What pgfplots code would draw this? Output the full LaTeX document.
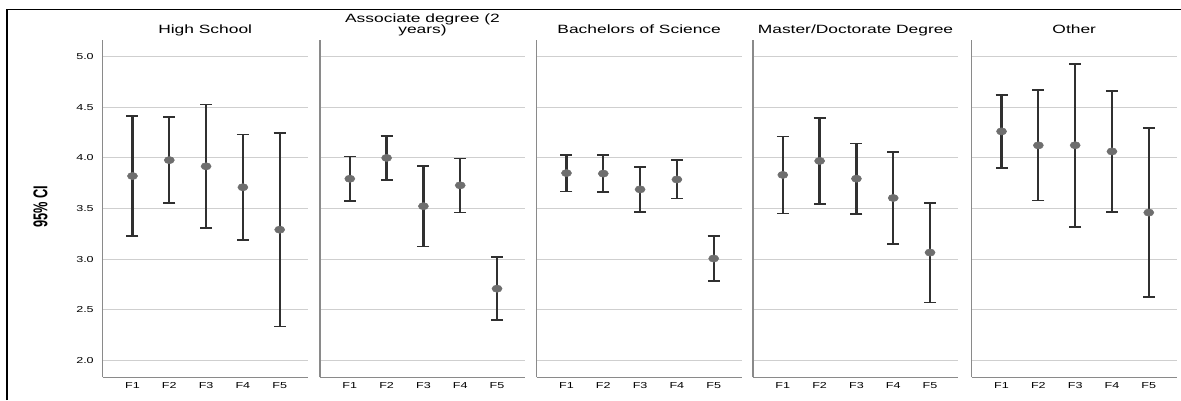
\documentclass[border=0pt]{standalone}
\usepackage{fontspec}
\setmainfont{Liberation Sans}[FakeStretch=1.45]
\newfontfamily\labfont{Liberation Sans}
\usepackage{pgfplots}
\pgfplotsset{compat=1.18}
\usepackage{pgfplotstable}

\definecolor{gridc}{HTML}{CFCFCF}
\definecolor{axc}{HTML}{8A8A8A}
\definecolor{barc}{HTML}{303030}
\definecolor{markc}{HTML}{6E6E6E}

\pgfplotstableread{
x y e
1 3.821 0.593
2 3.978 0.424
3 3.917 0.612
4 3.710 0.522
5 3.291 0.958
}\tabA
\pgfplotstableread{
x y e
1 3.794 0.218
2 4.000 0.219
3 3.523 0.400
4 3.729 0.267
5 2.708 0.310
}\tabB
\pgfplotstableread{
x y e
1 3.850 0.180
2 3.845 0.182
3 3.689 0.224
4 3.787 0.190
5 3.006 0.222
}\tabC
\pgfplotstableread{
x y e
1 3.832 0.380
2 3.970 0.424
3 3.795 0.349
4 3.604 0.452
5 3.065 0.492
}\tabD
\pgfplotstableread{
x y e
1 4.262 0.360
2 4.124 0.544
3 4.125 0.805
4 4.064 0.600
5 3.460 0.835
}\tabE

\pgfplotsset{
  panel/.style={
    scale only axis, width=153.75pt, height=253pt,
    anchor=south west,
    xmin=0.19, xmax=5.76, ymin=1.832, ymax=5.165,
    axis x line*=bottom, axis y line*=left,
    axis line style={axc, line width=1.1pt, -},
    xtick={1,2,3,4,5}, xticklabels={F1,F2,F3,F4,F5},
    ytick={2,2.5,3,3.5,4,4.5,5},
    major tick length=0pt,
    ymajorgrids, grid style={gridc, line width=0.8pt},
    xticklabel style={font=\fontsize{6.5}{7}\selectfont, anchor=base, inner sep=0pt, yshift=-8.7pt},
    yticklabel style={font=\fontsize{6.5}{7}\selectfont, anchor=east, inner sep=0pt, xshift=-6.5pt},
    /pgf/number format/assume math mode=true,
    /pgf/number format/fixed, /pgf/number format/fixed zerofill, /pgf/number format/precision=1,
    title style={at={(0.5,1)}, anchor=base, inner sep=0pt, yshift=-1pt, font=\fontsize{9}{8.2}\selectfont},
    clip=false,
  },
  ci/.style={only marks, mark=*, mark size=2.7pt, color=markc,
    mark options={xscale=1.4, fill=markc, draw=markc},
    error bars/.cd, y dir=both, y explicit,
    error bar style={barc, line width=1.7pt},
    error mark options={rotate=90, barc, mark size=4.5pt, line width=1.2pt}},
}

\begin{document}
\begin{tikzpicture}
\begin{axis}[panel, at={(77pt,17pt)}, title={High School}]
\addplot[ci] table[x=x, y=y, y error=e]{\tabA};
\end{axis}
\begin{axis}[panel, at={(240pt,17pt)}, yticklabels={}, title={\parbox[b]{150pt}{\lineskiplimit=-20pt\centering Associate degree (2\\years)}}]
\addplot[ci] table[x=x, y=y, y error=e]{\tabB};
\end{axis}
\begin{axis}[panel, at={(402.5pt,17pt)}, yticklabels={}, title={Bachelors of Science}]
\addplot[ci] table[x=x, y=y, y error=e]{\tabC};
\end{axis}
\begin{axis}[panel, at={(564.75pt,17pt)}, yticklabels={}, title={Master/Doctorate Degree}]
\addplot[ci] table[x=x, y=y, y error=e]{\tabD};
\end{axis}
\begin{axis}[panel, at={(728.8pt,17pt)}, yticklabels={}, title={Other}]
\addplot[ci] table[x=x, y=y, y error=e]{\tabE};
\end{axis}
\node[inner sep=0pt, transform shape, rotate=90, xscale=0.8, yscale=1.25, font=\labfont\bfseries\fontsize{12}{13}\selectfont] at (30.4pt,144.75pt) {95\% CI};
\draw[black, line width=0.8pt] (5.25pt,0pt) -- (5.25pt,292.9pt) -- (885.75pt,292.9pt);
\pgfresetboundingbox
\path[use as bounding box] (0pt,0pt) rectangle (885.75pt,300pt);
\end{tikzpicture}
\end{document}
